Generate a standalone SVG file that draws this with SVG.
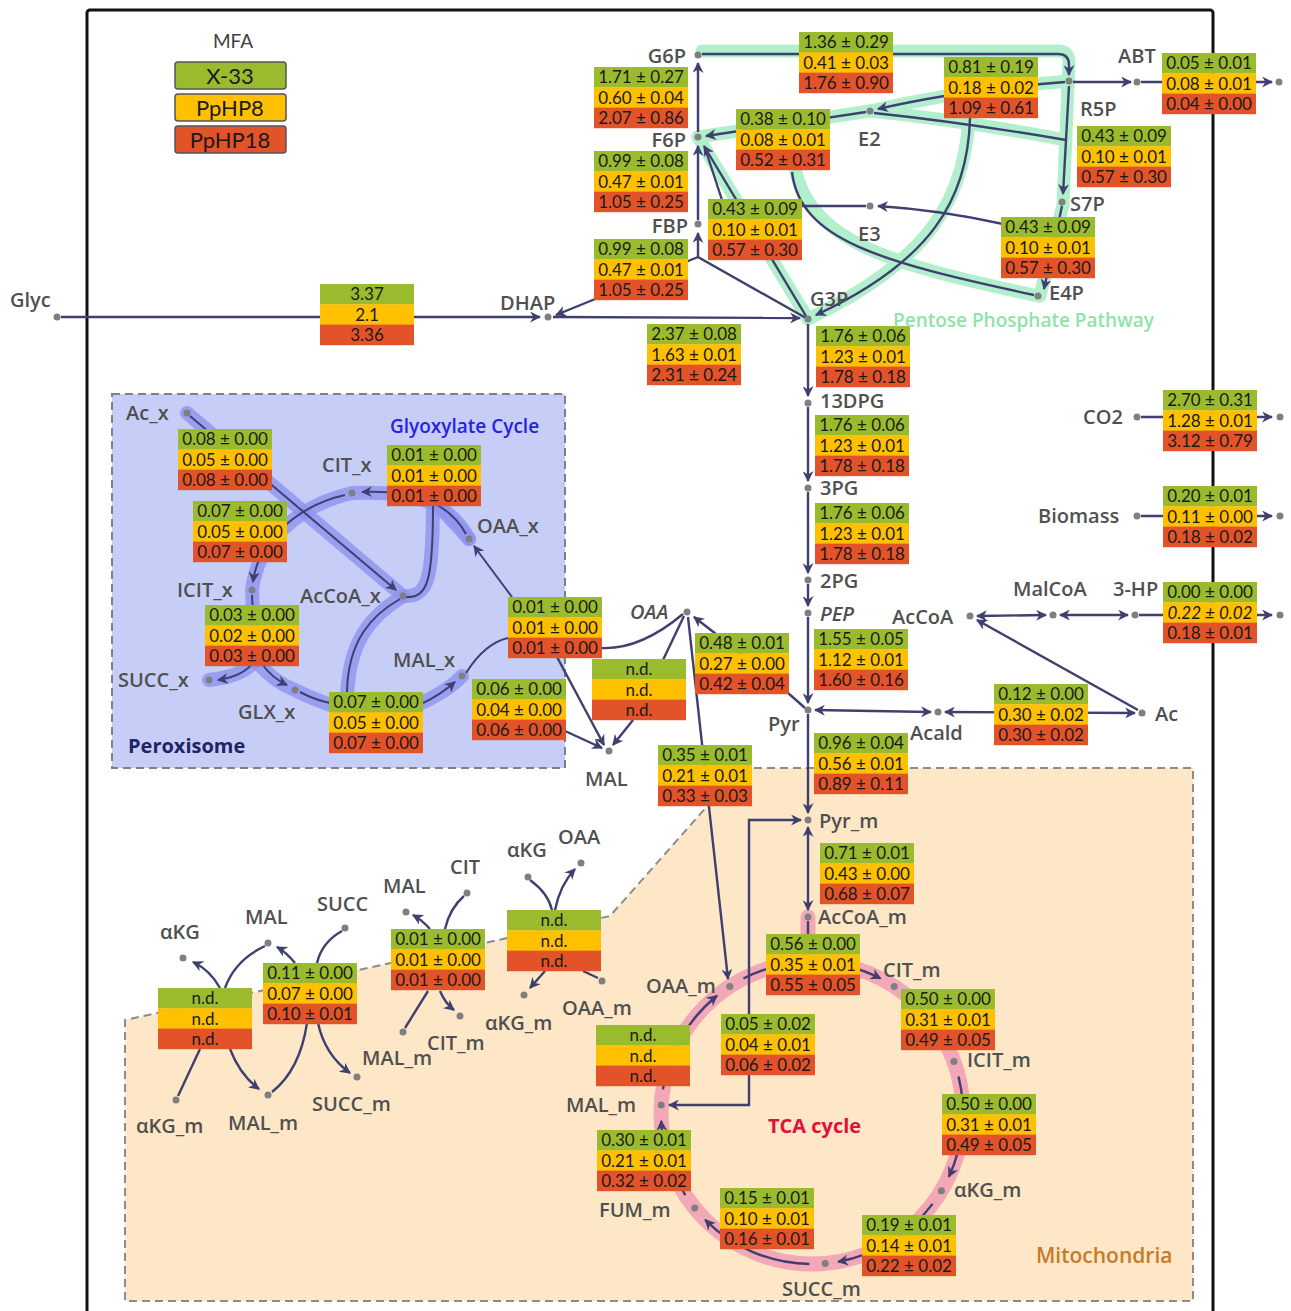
<svg xmlns="http://www.w3.org/2000/svg" xmlns:xlink="http://www.w3.org/1999/xlink" width="1291" height="1311" viewBox="0 0 1291 1311">
<style>
.g{fill:#9BBB2F}.y{fill:#FFC000}.r{fill:#E2532A}
.v{font-family:Lato,"Liberation Sans",sans-serif;font-size:17px;fill:#1a1a1a;text-anchor:middle}
.l{font-family:"Open Sans","Liberation Sans",sans-serif;font-size:20px;font-weight:600;fill:#505050}
.c{fill:none;stroke:#3f3f70;stroke-width:2.4}
.cs{fill:none;stroke:#3f3f70;stroke-width:2}
.hg{fill:none;stroke:#b2efcc;stroke-width:13;stroke-linecap:round;stroke-linejoin:round}
.hp{fill:none;stroke:#8d93ef;stroke-width:14;stroke-linecap:round;stroke-linejoin:round;opacity:.8}
.hr{fill:none;stroke:#f2a8b6;stroke-width:15;stroke-linecap:round}
.d{fill:#7f7f7f}
.it{font-style:italic}
.lg{font-family:Lato,"Liberation Sans",sans-serif;font-size:22px;fill:#1a1a1a;text-anchor:middle}
.t{font-family:"Open Sans","Liberation Sans",sans-serif;font-weight:600}
</style>
<defs>
<marker id="a" viewBox="0 0 10 10" refX="9" refY="5" markerWidth="11" markerHeight="11" markerUnits="userSpaceOnUse" orient="auto-start-reverse"><path d="M0,0 L10,5 L0,10 L3,5 z" fill="#3f3f70"/></marker>
<g id="bx"><rect class="g" width="94" height="20.6"/><rect class="y" y="20.3" width="94" height="20.6"/><rect class="r" y="40.6" width="94" height="20.6"/></g>
</defs>
<rect width="1291" height="1311" fill="#fff"/>
<rect x="87" y="10" width="1126" height="1340" rx="3" fill="none" stroke="#111" stroke-width="3"/>

<g id="compartments">
<rect id="peroxisome" x="112" y="394" width="453" height="374" fill="#c6cdf6" stroke="#808080" stroke-width="2" stroke-dasharray="8,5"/>
<path id="mitochondria" d="M741,768 L1193,768 L1193,1301 L125,1301 L125,1020 L610,916 Z" fill="#fde7c6" stroke="#8c8c8c" stroke-width="2" stroke-dasharray="8,5"/>
</g>

<g id="legend">
<text x="233" y="48" style="font-family:Lato,'Liberation Sans',sans-serif;font-size:19px;fill:#404040;text-anchor:middle">MFA</text>
<rect class="g" x="175" y="62" width="111" height="27" rx="3" stroke="#555" stroke-width="1.5"/>
<rect class="y" x="175" y="94" width="111" height="27" rx="3" stroke="#555" stroke-width="1.5"/>
<rect class="r" x="175" y="126" width="111" height="27" rx="3" stroke="#555" stroke-width="1.5"/>
<text class="lg" x="230" y="84">X-33</text>
<text class="lg" x="230" y="116">PpHP8</text>
<text class="lg" x="230" y="148">PpHP18</text>
</g>

<g id="halos">
<path class="hg" d="M702,51 L1058,51 Q1069,51 1069,62 L1063,205 L1040,296"/>
<path class="hg" d="M1069,81 Q960,90 870,111 L698,137"/>
<path class="hg" d="M870,111 Q960,120 1066,140"/>
<path class="hg" d="M970,100 C968,200 930,260 808,319"/>
<path class="hg" d="M792,150 C800,240 880,262 1038,296"/>
<path class="hg" d="M808,319 L698,137"/>
<path class="hp" d="M187,413 L403,596"/>
<path class="hp" d="M469,539 C450,505 420,490 352,493 C300,505 258,540 252,590 L255,660 Q245,676 209,680"/>
<path class="hp" d="M255,660 Q275,683 295,690 Q320,703 376,720 Q440,700 462,676"/>
<path class="hp" d="M403,596 C372,615 348,640 347,700"/>
<path class="hp" d="M403,596 C428,598 433,580 433,500 L469,539"/>
<circle class="hr" cx="812" cy="1113" r="151"/>
<path class="hr" d="M808,917 L808,962"/>
</g>

<g id="connectors">
<path class="c" d="M702,54 L1058,54 Q1069,54 1069,65 L1069,75" marker-end="url(#a)"/>
<path class="c" d="M1073,82 L1131,82" marker-end="url(#a)"/>
<path class="c" d="M1141,82 L1272,82" marker-end="url(#a)"/>
<path class="c" d="M1065,82 Q960,90 878,109" marker-end="url(#a)"/>
<path class="c" d="M970,118 C968,200 930,262 816,315" marker-end="url(#a)"/>
<path class="c" d="M866,112 L706,136" marker-end="url(#a)"/>
<path class="c" d="M792,172 C800,240 880,262 1034,295"/>
<path class="c" d="M874,113 Q960,122 1066,140"/>
<path class="c" d="M1069,86 L1063,194" marker-end="url(#a)"/>
<path class="c" d="M1062,206 L1044,289" marker-end="url(#a)"/>
<path class="c" d="M1003,224 Q940,210 878,206" marker-end="url(#a)"/>
<path class="c" d="M866,206 L802,206"/>
<path class="c" d="M806,316 L704,146" marker-end="url(#a)"/>
<path class="c" d="M722,200 L705,148"/>
<path class="c" d="M698,132 L698,63" marker-end="url(#a)"/>
<path class="c" d="M698,220 L698,146" marker-end="url(#a)"/>
<path class="c" d="M806,318 L698,257 L698,233" marker-end="url(#a)"/>
<path class="c" d="M698,257 L556,315" marker-end="url(#a)"/>
<path class="c" d="M61,317 L540,317" marker-end="url(#a)"/>
<path class="c" d="M553,317 L800,318" marker-end="url(#a)"/>
<path class="c" d="M808,324 L808,396" marker-end="url(#a)"/>
<path class="c" d="M808,407 L808,481" marker-end="url(#a)"/>
<path class="c" d="M808,492 L808,573" marker-end="url(#a)"/>
<path class="c" d="M808,584 L808,606" marker-end="url(#a)"/>
<path class="c" d="M808,617 L808,703" marker-end="url(#a)"/>
<path class="c" d="M808,714 L808,813" marker-end="url(#a)"/>
<path class="c" d="M815,710 L931,712" marker-start="url(#a)" marker-end="url(#a)"/>
<path class="c" d="M945,712 L1135,713" marker-start="url(#a)" marker-end="url(#a)"/>
<path class="c" d="M1138,710 L977,620" marker-end="url(#a)"/>
<path class="c" d="M977,616 L1046,615" marker-start="url(#a)" marker-end="url(#a)"/>
<path class="c" d="M1060,615 L1128,615" marker-start="url(#a)" marker-end="url(#a)"/>
<path class="c" d="M1139,615 L1272,615" marker-end="url(#a)"/>
<path class="c" d="M1141,417 L1272,417" marker-end="url(#a)"/>
<path class="c" d="M1141,516 L1272,516" marker-end="url(#a)"/>
<path class="c" d="M805,708 L760,668 L694,617" marker-end="url(#a)"/>
<path class="c" d="M684,616 L663,660"/>
<path class="c" d="M633,720 L613,745" marker-end="url(#a)"/>
<path class="c" d="M683,614 Q640,650 601,648"/>
<path class="c" d="M557,657 L604,745" marker-end="url(#a)"/>
<path class="c" d="M565,731 L602,748" marker-end="url(#a)"/>
<path class="c" d="M688,617 L728,979" marker-end="url(#a)"/>
<path class="cs" d="M466,673 Q485,643 508,638"/>
<path class="cs" d="M512,597 L474,546" marker-end="url(#a)"/>
<path class="cs" d="M190,416 L396,590" marker-end="url(#a)"/>
<path class="cs" d="M466,534 C450,505 420,490 362,492" marker-end="url(#a)"/>
<path class="cs" d="M345,495 C300,505 258,540 253,582" marker-end="url(#a)"/>
<path class="cs" d="M252,595 L255,660 Q245,676 218,680" marker-end="url(#a)"/>
<path class="cs" d="M262,664 Q272,678 287,685" marker-end="url(#a)"/>
<path class="cs" d="M300,692 Q315,700 330,703"/>
<path class="cs" d="M423,703 Q440,695 455,682" marker-end="url(#a)"/>
<path class="cs" d="M400,599 C372,615 348,640 347,692"/>
<path class="cs" d="M406,597 C428,598 433,580 433,506"/>
<path class="c" d="M808,827 L808,910" marker-start="url(#a)" marker-end="url(#a)"/>
<path class="c" d="M808,921 L808,936"/>
<path class="c" d="M801,820 L749,820 L749,1105 L669,1105" marker-start="url(#a)" marker-end="url(#a)"/>
<path class="c" d="M743.4,978.5 A151,151 0 0 1 880.6,978.5" marker-end="url(#a)"/>
<path class="c" d="M907,995.7 A151,151 0 0 1 948.9,1049.2" marker-end="url(#a)"/>
<path class="c" d="M958.5,1076.5 A151,151 0 0 1 948.9,1176.8" marker-end="url(#a)"/>
<path class="c" d="M932.6,1203.9 A151,151 0 0 1 838.2,1261.7" marker-end="url(#a)"/>
<path class="c" d="M809.4,1264 A151,151 0 0 1 705.2,1219.8" marker-end="url(#a)"/>
<path class="c" d="M685.4,1195.2 A151,151 0 0 1 661.2,1120.9" marker-end="url(#a)"/>
<path class="c" d="M662.9,1089.4 A151,151 0 0 1 717,995.7" marker-end="url(#a)"/>
<path class="c" d="M178,1096 L200,1049"/>
<path class="c" d="M220,988 Q210,970 193,962" marker-end="url(#a)"/>
<path class="c" d="M265,946 Q235,960 225,988"/>
<path class="c" d="M230,1049 Q240,1075 259,1089" marker-end="url(#a)"/>
<path class="c" d="M342,931 Q322,942 317,963"/>
<path class="c" d="M295,963 Q286,952 277,947" marker-end="url(#a)"/>
<path class="c" d="M272,1092 Q300,1070 307,1023"/>
<path class="c" d="M318,1023 Q325,1055 350,1073" marker-end="url(#a)"/>
<path class="c" d="M464,896 Q450,908 445,929"/>
<path class="c" d="M430,929 Q422,920 413,915" marker-end="url(#a)"/>
<path class="c" d="M405,1028 L428,991"/>
<path class="c" d="M440,991 Q445,1003 454,1010" marker-end="url(#a)"/>
<path class="c" d="M530,880 Q548,893 552,910"/>
<path class="c" d="M555,910 Q560,885 575,869" marker-end="url(#a)"/>
<path class="c" d="M545,971 L530,988" marker-end="url(#a)"/>
<path class="c" d="M598,978 L583,971"/>
</g>

<g id="boxes">
<g id="b1" transform="translate(799,32)"><use xlink:href="#bx"/><text class="v" x="47" y="16.2">1.36 ± 0.29</text><text class="v" x="47" y="36.5">0.41 ± 0.03</text><text class="v" x="47" y="56.8">1.76 ± 0.90</text></g>
<g id="b2" transform="translate(594,67)"><use xlink:href="#bx"/><text class="v" x="47" y="16.2">1.71 ± 0.27</text><text class="v" x="47" y="36.5">0.60 ± 0.04</text><text class="v" x="47" y="56.8">2.07 ± 0.86</text></g>
<g id="b3" transform="translate(736,109)"><use xlink:href="#bx"/><text class="v" x="47" y="16.2">0.38 ± 0.10</text><text class="v" x="47" y="36.5">0.08 ± 0.01</text><text class="v" x="47" y="56.8">0.52 ± 0.31</text></g>
<g id="b4" transform="translate(594,151)"><use xlink:href="#bx"/><text class="v" x="47" y="16.2">0.99 ± 0.08</text><text class="v" x="47" y="36.5">0.47 ± 0.01</text><text class="v" x="47" y="56.8">1.05 ± 0.25</text></g>
<g id="b5" transform="translate(708,199)"><use xlink:href="#bx"/><text class="v" x="47" y="16.2">0.43 ± 0.09</text><text class="v" x="47" y="36.5">0.10 ± 0.01</text><text class="v" x="47" y="56.8">0.57 ± 0.30</text></g>
<g id="b6" transform="translate(594,239)"><use xlink:href="#bx"/><text class="v" x="47" y="16.2">0.99 ± 0.08</text><text class="v" x="47" y="36.5">0.47 ± 0.01</text><text class="v" x="47" y="56.8">1.05 ± 0.25</text></g>
<g id="b7" transform="translate(647,324)"><use xlink:href="#bx"/><text class="v" x="47" y="16.2">2.37 ± 0.08</text><text class="v" x="47" y="36.5">1.63 ± 0.01</text><text class="v" x="47" y="56.8">2.31 ± 0.24</text></g>
<g id="b8" transform="translate(816,326)"><use xlink:href="#bx"/><text class="v" x="47" y="16.2">1.76 ± 0.06</text><text class="v" x="47" y="36.5">1.23 ± 0.01</text><text class="v" x="47" y="56.8">1.78 ± 0.18</text></g>
<g id="b9" transform="translate(944,57)"><use xlink:href="#bx"/><text class="v" x="47" y="16.2">0.81 ± 0.19</text><text class="v" x="47" y="36.5">0.18 ± 0.02</text><text class="v" x="47" y="56.8">1.09 ± 0.61</text></g>
<g id="b10" transform="translate(1162,53)"><use xlink:href="#bx"/><text class="v" x="47" y="16.2">0.05 ± 0.01</text><text class="v" x="47" y="36.5">0.08 ± 0.01</text><text class="v" x="47" y="56.8">0.04 ± 0.00</text></g>
<g id="b11" transform="translate(1077,126)"><use xlink:href="#bx"/><text class="v" x="47" y="16.2">0.43 ± 0.09</text><text class="v" x="47" y="36.5">0.10 ± 0.01</text><text class="v" x="47" y="56.8">0.57 ± 0.30</text></g>
<g id="b12" transform="translate(1001,217)"><use xlink:href="#bx"/><text class="v" x="47" y="16.2">0.43 ± 0.09</text><text class="v" x="47" y="36.5">0.10 ± 0.01</text><text class="v" x="47" y="56.8">0.57 ± 0.30</text></g>
<g id="b13" transform="translate(320,284)"><use xlink:href="#bx"/><text class="v" x="47" y="16.2">3.37</text><text class="v" x="47" y="36.5">2.1</text><text class="v" x="47" y="56.8">3.36</text></g>
<g id="b14" transform="translate(178,429)"><use xlink:href="#bx"/><text class="v" x="47" y="16.2">0.08 ± 0.00</text><text class="v" x="47" y="36.5">0.05 ± 0.00</text><text class="v" x="47" y="56.8">0.08 ± 0.00</text></g>
<g id="b15" transform="translate(387,445)"><use xlink:href="#bx"/><text class="v" x="47" y="16.2">0.01 ± 0.00</text><text class="v" x="47" y="36.5">0.01 ± 0.00</text><text class="v" x="47" y="56.8">0.01 ± 0.00</text></g>
<g id="b16" transform="translate(193,501)"><use xlink:href="#bx"/><text class="v" x="47" y="16.2">0.07 ± 0.00</text><text class="v" x="47" y="36.5">0.05 ± 0.00</text><text class="v" x="47" y="56.8">0.07 ± 0.00</text></g>
<g id="b17" transform="translate(205,605)"><use xlink:href="#bx"/><text class="v" x="47" y="16.2">0.03 ± 0.00</text><text class="v" x="47" y="36.5">0.02 ± 0.00</text><text class="v" x="47" y="56.8">0.03 ± 0.00</text></g>
<g id="b18" transform="translate(329,692)"><use xlink:href="#bx"/><text class="v" x="47" y="16.2">0.07 ± 0.00</text><text class="v" x="47" y="36.5">0.05 ± 0.00</text><text class="v" x="47" y="56.8">0.07 ± 0.00</text></g>
<g id="b19" transform="translate(472,679)"><use xlink:href="#bx"/><text class="v" x="47" y="16.2">0.06 ± 0.00</text><text class="v" x="47" y="36.5">0.04 ± 0.00</text><text class="v" x="47" y="56.8">0.06 ± 0.00</text></g>
<g id="b20" transform="translate(508,597)"><use xlink:href="#bx"/><text class="v" x="47" y="16.2">0.01 ± 0.00</text><text class="v" x="47" y="36.5">0.01 ± 0.00</text><text class="v" x="47" y="56.8">0.01 ± 0.00</text></g>
<g id="b21" transform="translate(592,659)"><use xlink:href="#bx"/><text class="v" x="47" y="16.2">n.d.</text><text class="v" x="47" y="36.5">n.d.</text><text class="v" x="47" y="56.8">n.d.</text></g>
<g id="b22" transform="translate(695,633)"><use xlink:href="#bx"/><text class="v" x="47" y="16.2">0.48 ± 0.01</text><text class="v" x="47" y="36.5">0.27 ± 0.00</text><text class="v" x="47" y="56.8">0.42 ± 0.04</text></g>
<g id="b23" transform="translate(658,745)"><use xlink:href="#bx"/><text class="v" x="47" y="16.2">0.35 ± 0.01</text><text class="v" x="47" y="36.5">0.21 ± 0.01</text><text class="v" x="47" y="56.8">0.33 ± 0.03</text></g>
<g id="b24" transform="translate(815,415)"><use xlink:href="#bx"/><text class="v" x="47" y="16.2">1.76 ± 0.06</text><text class="v" x="47" y="36.5">1.23 ± 0.01</text><text class="v" x="47" y="56.8">1.78 ± 0.18</text></g>
<g id="b25" transform="translate(815,503)"><use xlink:href="#bx"/><text class="v" x="47" y="16.2">1.76 ± 0.06</text><text class="v" x="47" y="36.5">1.23 ± 0.01</text><text class="v" x="47" y="56.8">1.78 ± 0.18</text></g>
<g id="b26" transform="translate(814,629)"><use xlink:href="#bx"/><text class="v" x="47" y="16.2">1.55 ± 0.05</text><text class="v" x="47" y="36.5">1.12 ± 0.01</text><text class="v" x="47" y="56.8">1.60 ± 0.16</text></g>
<g id="b27" transform="translate(814,733)"><use xlink:href="#bx"/><text class="v" x="47" y="16.2">0.96 ± 0.04</text><text class="v" x="47" y="36.5">0.56 ± 0.01</text><text class="v" x="47" y="56.8">0.89 ± 0.11</text></g>
<g id="b28" transform="translate(1163,390)"><use xlink:href="#bx"/><text class="v" x="47" y="16.2">2.70 ± 0.31</text><text class="v" x="47" y="36.5">1.28 ± 0.01</text><text class="v" x="47" y="56.8">3.12 ± 0.79</text></g>
<g id="b29" transform="translate(1163,486)"><use xlink:href="#bx"/><text class="v" x="47" y="16.2">0.20 ± 0.01</text><text class="v" x="47" y="36.5">0.11 ± 0.00</text><text class="v" x="47" y="56.8">0.18 ± 0.02</text></g>
<g id="b30" transform="translate(1163,582)"><use xlink:href="#bx"/><text class="v" x="47" y="16.2">0.00 ± 0.00</text><text class="v it" x="47" y="36.5">0.22 ± 0.02</text><text class="v" x="47" y="56.8">0.18 ± 0.01</text></g>
<g id="b31" transform="translate(994,684)"><use xlink:href="#bx"/><text class="v" x="47" y="16.2">0.12 ± 0.00</text><text class="v" x="47" y="36.5">0.30 ± 0.02</text><text class="v" x="47" y="56.8">0.30 ± 0.02</text></g>
<g id="b32" transform="translate(820,843)"><use xlink:href="#bx"/><text class="v" x="47" y="16.2">0.71 ± 0.01</text><text class="v" x="47" y="36.5">0.43 ± 0.00</text><text class="v" x="47" y="56.8">0.68 ± 0.07</text></g>
<g id="b33" transform="translate(766,934)"><use xlink:href="#bx"/><text class="v" x="47" y="16.2">0.56 ± 0.00</text><text class="v" x="47" y="36.5">0.35 ± 0.01</text><text class="v" x="47" y="56.8">0.55 ± 0.05</text></g>
<g id="b34" transform="translate(901,989)"><use xlink:href="#bx"/><text class="v" x="47" y="16.2">0.50 ± 0.00</text><text class="v" x="47" y="36.5">0.31 ± 0.01</text><text class="v" x="47" y="56.8">0.49 ± 0.05</text></g>
<g id="b35" transform="translate(721,1014)"><use xlink:href="#bx"/><text class="v" x="47" y="16.2">0.05 ± 0.02</text><text class="v" x="47" y="36.5">0.04 ± 0.01</text><text class="v" x="47" y="56.8">0.06 ± 0.02</text></g>
<g id="b36" transform="translate(596,1025)"><use xlink:href="#bx"/><text class="v" x="47" y="16.2">n.d.</text><text class="v" x="47" y="36.5">n.d.</text><text class="v" x="47" y="56.8">n.d.</text></g>
<g id="b37" transform="translate(942,1094)"><use xlink:href="#bx"/><text class="v" x="47" y="16.2">0.50 ± 0.00</text><text class="v" x="47" y="36.5">0.31 ± 0.01</text><text class="v" x="47" y="56.8">0.49 ± 0.05</text></g>
<g id="b38" transform="translate(597,1130)"><use xlink:href="#bx"/><text class="v" x="47" y="16.2">0.30 ± 0.01</text><text class="v" x="47" y="36.5">0.21 ± 0.01</text><text class="v" x="47" y="56.8">0.32 ± 0.02</text></g>
<g id="b39" transform="translate(720,1188)"><use xlink:href="#bx"/><text class="v" x="47" y="16.2">0.15 ± 0.01</text><text class="v" x="47" y="36.5">0.10 ± 0.01</text><text class="v" x="47" y="56.8">0.16 ± 0.01</text></g>
<g id="b40" transform="translate(862,1215)"><use xlink:href="#bx"/><text class="v" x="47" y="16.2">0.19 ± 0.01</text><text class="v" x="47" y="36.5">0.14 ± 0.01</text><text class="v" x="47" y="56.8">0.22 ± 0.02</text></g>
<g id="b41" transform="translate(158,988)"><use xlink:href="#bx"/><text class="v" x="47" y="16.2">n.d.</text><text class="v" x="47" y="36.5">n.d.</text><text class="v" x="47" y="56.8">n.d.</text></g>
<g id="b42" transform="translate(263,963)"><use xlink:href="#bx"/><text class="v" x="47" y="16.2">0.11 ± 0.00</text><text class="v" x="47" y="36.5">0.07 ± 0.00</text><text class="v" x="47" y="56.8">0.10 ± 0.01</text></g>
<g id="b43" transform="translate(391,929)"><use xlink:href="#bx"/><text class="v" x="47" y="16.2">0.01 ± 0.00</text><text class="v" x="47" y="36.5">0.01 ± 0.00</text><text class="v" x="47" y="56.8">0.01 ± 0.00</text></g>
<g id="b44" transform="translate(507,910)"><use xlink:href="#bx"/><text class="v" x="47" y="16.2">n.d.</text><text class="v" x="47" y="36.5">n.d.</text><text class="v" x="47" y="56.8">n.d.</text></g>
</g>

<g id="nodes">
<g id="n-glyc"><circle class="d" cx="57" cy="317" r="3.5"/><text class="l" x="10" y="307">Glyc</text></g>
<g id="n-dhap"><circle class="d" cx="548" cy="317" r="3.5"/><text class="l" x="500" y="310">DHAP</text></g>
<g id="n-g6p"><circle class="d" cx="698" cy="55" r="3.5"/><text class="l" x="686" y="63" text-anchor="end">G6P</text></g>
<g id="n-f6p"><circle class="d" cx="698" cy="137" r="3.5"/><text class="l" x="686" y="147" text-anchor="end">F6P</text></g>
<g id="n-fbp"><circle class="d" cx="698" cy="224" r="3.5"/><text class="l" x="688" y="233" text-anchor="end">FBP</text></g>
<g id="n-g3p"><circle class="d" cx="808" cy="319" r="3.5"/><text class="l" x="810" y="306">G3P</text></g>
<g id="n-e2"><circle class="d" cx="870" cy="111" r="3.5"/><text class="l" x="858" y="146">E2</text></g>
<g id="n-e3"><circle class="d" cx="870" cy="206" r="3.5"/><text class="l" x="858" y="241">E3</text></g>
<g id="n-r5p"><circle class="d" cx="1069" cy="81" r="3.5"/><text class="l" x="1080" y="116">R5P</text></g>
<g id="n-abt"><circle class="d" cx="1137" cy="82" r="3.5"/><circle class="d" cx="1279" cy="82" r="3.5"/><text class="l" x="1118" y="63">ABT</text></g>
<g id="n-s7p"><circle class="d" cx="1062" cy="202" r="3.5"/><text class="l" x="1070" y="211">S7P</text></g>
<g id="n-e4p"><circle class="d" cx="1038" cy="296" r="3.5"/><text class="l" x="1049" y="300">E4P</text></g>
<text class="t" x="893" y="327" style="font-size:19px;fill:#8fe3a8">Pentose Phosphate Pathway</text>
<g id="n-13dpg"><circle class="d" cx="808" cy="403" r="3.5"/><text class="l" x="820" y="408">13DPG</text></g>
<g id="n-3pg"><circle class="d" cx="808" cy="488" r="3.5"/><text class="l" x="820" y="495">3PG</text></g>
<g id="n-2pg"><circle class="d" cx="808" cy="580" r="3.5"/><text class="l" x="820" y="588">2PG</text></g>
<g id="n-pep"><circle class="d" cx="808" cy="613" r="3.5"/><text class="l it" x="820" y="621">PEP</text></g>
<g id="n-accoa"><circle class="d" cx="970" cy="616" r="3.5"/><text class="l" x="892" y="624">AcCoA</text></g>
<g id="n-malcoa"><circle class="d" cx="1053" cy="615" r="3.5"/><text class="l" x="1013" y="596">MalCoA</text></g>
<g id="n-3hp"><circle class="d" cx="1135" cy="615" r="3.5"/><circle class="d" cx="1280" cy="615" r="3.5"/><text class="l" x="1113" y="596">3-HP</text></g>
<g id="n-co2"><circle class="d" cx="1137" cy="417" r="3.5"/><circle class="d" cx="1280" cy="417" r="3.5"/><text class="l" x="1083" y="424">CO2</text></g>
<g id="n-biomass"><circle class="d" cx="1137" cy="516" r="3.5"/><circle class="d" cx="1280" cy="516" r="3.5"/><text class="l" x="1038" y="523">Biomass</text></g>
<g id="n-pyr"><circle class="d" cx="808" cy="710" r="3.5"/><text class="l" x="768" y="731">Pyr</text></g>
<g id="n-acald"><circle class="d" cx="938" cy="712" r="3.5"/><text class="l" x="910" y="740">Acald</text></g>
<g id="n-ac"><circle class="d" cx="1142" cy="713" r="3.5"/><text class="l" x="1155" y="721">Ac</text></g>
<g id="n-oaa"><circle class="d" cx="687" cy="612" r="3.5"/><text class="l it" x="630" y="619">OAA</text></g>
<g id="n-mal"><circle class="d" cx="609" cy="751" r="3.5"/><text class="l" x="585" y="786">MAL</text></g>
<g id="n-acx"><circle class="d" cx="187" cy="413" r="3.5"/><text class="l" x="126" y="420">Ac_x</text></g>
<text class="t" x="390" y="433" style="font-size:19px;fill:#2424e0">Glyoxylate Cycle</text>
<g id="n-citx"><circle class="d" cx="352" cy="493" r="3.5"/><text class="l" x="322" y="472">CIT_x</text></g>
<g id="n-oaax"><circle class="d" cx="469" cy="539" r="3.5"/><text class="l" x="477" y="533">OAA_x</text></g>
<g id="n-icitx"><circle class="d" cx="252" cy="590" r="3.5"/><text class="l" x="177" y="597">ICIT_x</text></g>
<g id="n-accoax"><circle class="d" cx="403" cy="596" r="3.5"/><text class="l" x="300" y="603">AcCoA_x</text></g>
<g id="n-succx"><circle class="d" cx="209" cy="680" r="3.5"/><text class="l" x="118" y="687">SUCC_x</text></g>
<g id="n-malx"><circle class="d" cx="462" cy="676" r="3.5"/><text class="l" x="393" y="667">MAL_x</text></g>
<g id="n-glxx"><circle class="d" cx="295" cy="690" r="3.5"/><text class="l" x="238" y="719">GLX_x</text></g>
<text class="t" x="128" y="753" style="font-size:20px;font-weight:700;fill:#1f2466">Peroxisome</text>
<g id="n-pyrm"><circle class="d" cx="808" cy="820" r="3.5"/><text class="l" x="819" y="828">Pyr_m</text></g>
<g id="n-accoam"><circle class="d" cx="808" cy="917" r="3.5"/><text class="l" x="818" y="924">AcCoA_m</text></g>
<g id="n-oaam"><circle class="d" cx="729.8" cy="986.4" r="3.5"/><text class="l" x="646" y="993">OAA_m</text></g>
<g id="n-citm"><circle class="d" cx="894.2" cy="986.4" r="3.5"/><text class="l" x="883" y="977">CIT_m</text></g>
<g id="n-icitm"><circle class="d" cx="953.9" cy="1061.4" r="3.5"/><text class="l" x="967" y="1067">ICIT_m</text></g>
<g id="n-akgm"><circle class="d" cx="941.4" cy="1190.8" r="3.5"/><text class="l" x="954" y="1197">αKG_m</text></g>
<g id="n-succm"><circle class="d" cx="825.2" cy="1263.4" r="3.5"/><text class="l" x="782" y="1296">SUCC_m</text></g>
<g id="n-fumm"><circle class="d" cx="694.7" cy="1208" r="3.5"/><text class="l" x="599" y="1217">FUM_m</text></g>
<g id="n-malm"><circle class="d" cx="661.2" cy="1105.1" r="3.5"/><text class="l" x="566" y="1112">MAL_m</text></g>
<text class="t" x="768" y="1133" style="font-size:20px;font-weight:700;fill:#e0103a">TCA cycle</text>
<text class="t" x="1036" y="1263" style="font-size:21px;fill:#c77a2c">Mitochondria</text>
<g id="t-akg1"><circle class="d" cx="183" cy="958" r="3.5"/><text class="l" x="160" y="939">αKG</text></g>
<g id="t-mal1"><circle class="d" cx="268" cy="943" r="3.5"/><text class="l" x="245" y="924">MAL</text></g>
<g id="t-succ"><circle class="d" cx="345" cy="928" r="3.5"/><text class="l" x="317" y="911">SUCC</text></g>
<g id="t-mal2"><circle class="d" cx="406" cy="912" r="3.5"/><text class="l" x="383" y="893">MAL</text></g>
<g id="t-cit"><circle class="d" cx="467" cy="893" r="3.5"/><text class="l" x="450" y="874">CIT</text></g>
<g id="t-akg2"><circle class="d" cx="528" cy="877" r="3.5"/><text class="l" x="507" y="857">αKG</text></g>
<g id="t-oaa"><circle class="d" cx="581" cy="863" r="3.5"/><text class="l" x="558" y="844">OAA</text></g>
<g id="t-akgm1"><circle class="d" cx="176" cy="1100" r="3.5"/><text class="l" x="136" y="1133">αKG_m</text></g>
<g id="t-malm1"><circle class="d" cx="268" cy="1095" r="3.5"/><text class="l" x="228" y="1130">MAL_m</text></g>
<g id="t-succm"><circle class="d" cx="357" cy="1077" r="3.5"/><text class="l" x="312" y="1111">SUCC_m</text></g>
<g id="t-malm2"><circle class="d" cx="403" cy="1032" r="3.5"/><text class="l" x="362" y="1065">MAL_m</text></g>
<g id="t-citm"><circle class="d" cx="460" cy="1016" r="3.5"/><text class="l" x="427" y="1050">CIT_m</text></g>
<g id="t-akgm2"><circle class="d" cx="524" cy="995" r="3.5"/><text class="l" x="485" y="1030">αKG_m</text></g>
<g id="t-oaam"><circle class="d" cx="602" cy="981" r="3.5"/><text class="l" x="562" y="1015">OAA_m</text></g>
</g>
</svg>
